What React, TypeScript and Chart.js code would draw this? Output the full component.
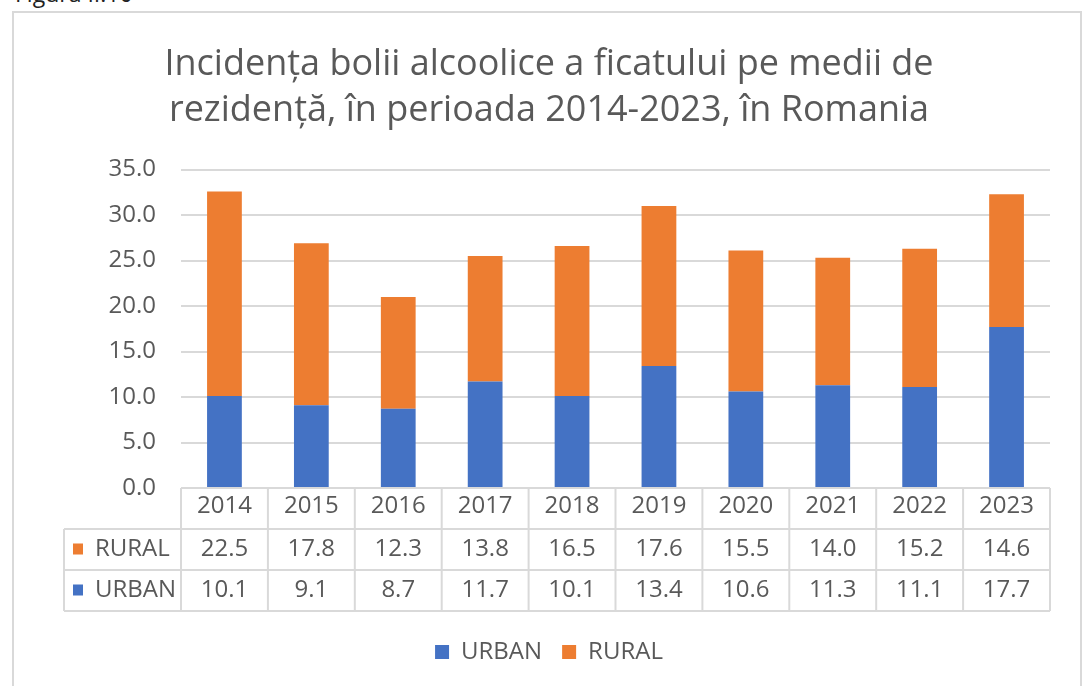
import React, { useEffect, useRef } from "react";
import { Chart, registerables } from "chart.js";

Chart.register(...registerables);

const categories = ["2014", "2015", "2016", "2017", "2018", "2019", "2020", "2021", "2022", "2023"];
const urbanValues = [10.1, 9.1, 8.7, 11.7, 10.1, 13.4, 10.6, 11.3, 11.1, 17.7];
const ruralValues = [22.5, 17.8, 12.3, 13.8, 16.5, 17.6, 15.5, 14.0, 15.2, 14.6];
const yTicks = [0, 5, 10, 15, 20, 25, 30, 35];
const titleLines = [
  "Incidența bolii alcoolice a ficatului pe medii de",
  "rezidență, în perioada 2014-2023, în Romania",
];
const seriesNames = ["URBAN", "RURAL"];
const seriesColors = ["#4472C4", "#ED7D31"];

const FONT = "'Open Sans', 'Noto Sans', sans-serif";
const TEXT = "#595959";
const GRID = "#d9d9d9";

const tablePlugin = {
  id: "dataTable",
  afterDraw(chart: any) {
    const { ctx, chartArea } = chart;
    const x = chart.scales.x;
    const n = categories.length;
    const w = (x.right - x.left) / n;
    const top = chartArea.bottom;
    const rh = 41;
    const rows = [top, top + rh, top + 2 * rh, top + 3 * rh];
    const labelLeft = 64;
    ctx.save();
    ctx.strokeStyle = GRID;
    ctx.lineWidth = 2;
    const line = (x1: number, y1: number, x2: number, y2: number) => {
      ctx.beginPath();
      ctx.moveTo(x1, y1);
      ctx.lineTo(x2, y2);
      ctx.stroke();
    };
    line(x.left, rows[0], x.right, rows[0]);
    for (let r = 1; r <= 3; r++) line(labelLeft, rows[r], x.right, rows[r]);
    for (let i = 0; i <= n; i++) line(x.left + i * w, rows[0], x.left + i * w, rows[3]);
    line(labelLeft, rows[1], labelLeft, rows[3]);

    const tableRows = [chart.data.datasets[1], chart.data.datasets[0]];
    tableRows.forEach((ds: any, r: number) => {
      const cy = (rows[r + 1] + rows[r + 2]) / 2;
      ctx.fillStyle = ds.backgroundColor;
      ctx.fillRect(73, cy - 6, 10, 11);
      ctx.fillStyle = TEXT;
      ctx.font = `24px ${FONT}`;
      ctx.textBaseline = "middle";
      ctx.textAlign = "left";
      ctx.fillText(ds.label, 95, cy);
      ctx.textAlign = "center";
      ds.data.forEach((v: number, i: number) => {
        ctx.fillText(v.toFixed(1), x.getPixelForValue(i), cy);
      });
    });
    ctx.restore();
  },
};

export default function App() {
  const ref = useRef<HTMLCanvasElement>(null);
  useEffect(() => {
    if (!ref.current) return;
    const chart = new Chart(ref.current, {
      type: "bar",
      data: {
        labels: categories,
        datasets: [
          {
            label: seriesNames[0],
            data: urbanValues,
            backgroundColor: seriesColors[0],
            categoryPercentage: 0.8,
            barPercentage: 0.5,
          },
          {
            label: seriesNames[1],
            data: ruralValues,
            backgroundColor: seriesColors[1],
            categoryPercentage: 0.8,
            barPercentage: 0.5,
          },
        ],
      },
      options: {
        responsive: false,
        animation: false,
        devicePixelRatio: 1,
        layout: { padding: { left: 48, right: 35, top: 0, bottom: 12 } },
        plugins: {
          title: {
            display: true,
            text: titleLines,
            color: TEXT,
            font: { family: FONT, size: 36, weight: "normal", lineHeight: 1.3 },
            padding: { top: 41, bottom: 35 },
          },
          legend: {
            position: "bottom",
            labels: {
              boxWidth: 14,
              boxHeight: 14,
              padding: 20,
              color: TEXT,
              font: { family: FONT, size: 24 },
            },
          },
          tooltip: { enabled: false },
        },
        scales: {
          x: {
            stacked: true,
            grid: { display: false, drawTicks: false },
            border: { display: false },
            ticks: { color: TEXT, font: { family: FONT, size: 24 }, padding: 4 },
            afterFit: (s: any) => {
              s.height = 132;
            },
          },
          y: {
            stacked: true,
            min: yTicks[0],
            max: yTicks[yTicks.length - 1],
            afterBuildTicks: (s: any) => {
              s.ticks = yTicks.map((v) => ({ value: v }));
            },
            grid: { color: GRID, lineWidth: 2, drawTicks: false },
            border: { display: false },
            ticks: {
              color: TEXT,
              font: { family: FONT, size: 24 },
              padding: 25,
              callback: (v: any) => Number(v).toFixed(1),
            },
            afterFit: (s: any) => {
              s.width = 133;
            },
          },
        },
      },
      plugins: [tablePlugin],
    } as any);
    return () => chart.destroy();
  }, []);

  return (
    <div
      style={{
        position: "absolute",
        left: 0,
        top: 0,
        width: 1085,
        height: 686,
        background: "#fff",
        overflow: "hidden",
      }}
    >
      <div
        style={{
          position: "absolute",
          left: 15,
          top: -18,
          fontFamily: FONT,
          fontSize: 23,
          lineHeight: "23px",
          color: "#222",
          whiteSpace: "nowrap",
        }}
      >
        Figura II.10
      </div>
      <div
        style={{
          position: "absolute",
          left: 12,
          top: 11,
          width: 1070,
          height: 720,
          border: `2px solid ${GRID}`,
          boxSizing: "border-box",
        }}
      />
      <canvas
        ref={ref}
        width={1085}
        height={686}
        style={{ position: "absolute", left: 0, top: 0, width: 1085, height: 686 }}
      />
    </div>
  );
}
